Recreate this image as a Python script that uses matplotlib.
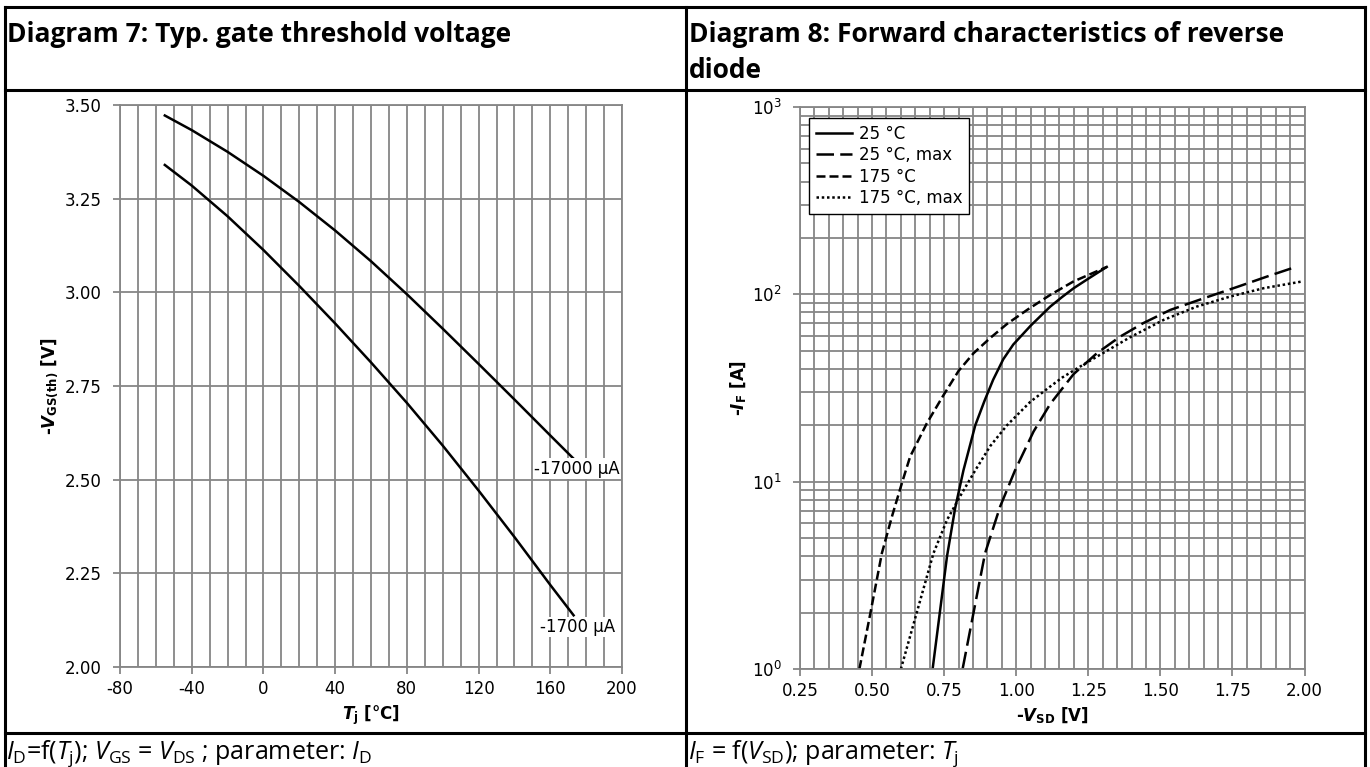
import matplotlib
matplotlib.use("Agg")
import matplotlib.pyplot as plt
from matplotlib.lines import Line2D
from matplotlib.ticker import MultipleLocator, FormatStrFormatter, LogLocator, NullFormatter

# Diagram 7 data: gate threshold voltage vs junction temperature
tj = [-55, -40, -20, 0, 20, 40, 60, 80, 100, 120, 140, 160, 173]
vth_17000 = [3.472, 3.433, 3.375, 3.311, 3.241, 3.165, 3.083, 2.995, 2.903, 2.809, 2.714, 2.618, 2.556]
vth_1700 = [3.340, 3.285, 3.203, 3.113, 3.017, 2.917, 2.813, 2.705, 2.591, 2.471, 2.347, 2.219, 2.138]
curve_labels = ["-17000 µA", "-1700 µA"]

# Diagram 8 data: reverse diode forward characteristics
v_25 = [0.710, 0.735, 0.760, 0.788, 0.817, 0.858, 0.890, 0.920, 0.955, 0.990, 1.050, 1.118, 1.160, 1.200, 1.260, 1.314]
i_25 = [1.0, 2.0, 4.0, 7.2, 11.5, 20, 27, 35, 45, 54, 68, 86, 97, 108, 124, 140]
v_25max = [0.814, 0.852, 0.892, 0.944, 0.996, 1.060, 1.118, 1.199, 1.280, 1.360, 1.440, 1.534, 1.657, 1.770, 1.877, 1.956]
i_25max = [1.0, 2.0, 4.15, 7.35, 11.5, 18.5, 26.0, 37.5, 48.5, 59.4, 70.1, 82.5, 96, 110, 125.5, 137.8]
v_175 = [0.456, 0.494, 0.534, 0.570, 0.605, 0.632, 0.690, 0.748, 0.800, 0.852, 0.910, 0.968, 1.040, 1.118, 1.198, 1.314]
i_175 = [1.0, 1.98, 4.15, 6.6, 10.0, 13.6, 20.5, 29, 39, 48.5, 58.5, 69.5, 83, 99.3, 117, 140]
v_175max = [0.600, 0.655, 0.713, 0.760, 0.810, 0.858, 0.910, 0.968, 1.049, 1.118, 1.160, 1.220, 1.280, 1.395, 1.511, 1.626, 1.742, 1.858, 1.990]
i_175max = [1.0, 2.0, 4.15, 6.25, 8.6, 11.5, 15.5, 20, 26.7, 32.2, 36, 41, 46.5, 59, 73, 86, 97.3, 107.8, 117]
legend_labels = ["25 °C", "25 °C, max", "175 °C", "175 °C, max"]

plt.rcParams["font.family"] = "DejaVu Sans"
plt.rcParams["axes.unicode_minus"] = False
plt.rcParams["mathtext.fontset"] = "custom"
plt.rcParams["mathtext.rm"] = "Open Sans"
plt.rcParams["mathtext.it"] = "Open Sans:italic"
plt.rcParams["mathtext.bf"] = "DejaVu Sans:bold"
plt.rcParams["mathtext.bfit"] = "DejaVu Sans:italic:bold"

W, H = 1370, 767
GRID = "#868686"


def fx(px):
    return px / W


def fy(py):
    return 1 - py / H


def style_axes(ax):
    ax.grid(which="both", color=GRID, lw=1.3)
    ax.tick_params(which="major", direction="out", length=5, width=1.3, color=GRID,
                   labelsize=12)
    ax.tick_params(axis="x", which="major", pad=4.5)
    ax.tick_params(axis="y", which="major", pad=8)
    ax.tick_params(which="minor", length=0)
    for s in ax.spines.values():
        s.set_color(GRID)
        s.set_linewidth(1.3)


fig = plt.figure(figsize=(13.7, 7.67), dpi=100)

# table frame
lines = [
    ([5, 1365], [7, 7]), ([5, 1365], [90, 90]), ([5, 1365], [733, 733]),
    ([5, 5], [7, 767]), ([686, 686], [7, 767]), ([1365, 1365], [7, 767]),
]
for xs, ys in lines:
    fig.add_artist(Line2D([fx(x) for x in xs], [fy(y) for y in ys],
                          transform=fig.transFigure, color="black", lw=2.2))

# headers
hdr = dict(family="Open Sans", fontweight="bold", fontsize=19, va="baseline", ha="left")
fig.text(fx(7), fy(42), "Diagram 7: Typ. gate threshold voltage", **hdr)
fig.text(fx(689), fy(42), "Diagram 8: Forward characteristics of reverse", **hdr)
fig.text(fx(689), fy(78), "diode", **hdr)

# captions
cap = dict(family="Open Sans", fontsize=18, va="baseline", ha="left")
fig.text(fx(6), fy(759), r"$I_\mathrm{D}$=f($T_\mathrm{j}$); $V_\mathrm{GS}$ = $V_\mathrm{DS}$ ; parameter: $I_\mathrm{D}$", **cap)
fig.text(fx(688), fy(759), r"$I_\mathrm{F}$ = f($V_\mathrm{SD}$); parameter: $T_\mathrm{j}$", **cap)

# ---- Diagram 7
ax1 = fig.add_axes([fx(120), fy(667), (622 - 120) / W, (667 - 105) / H])
ax1.plot(tj, vth_17000, color="black", lw=1.8)
ax1.plot(tj, vth_1700, color="black", lw=1.8)
ax1.set_xlim(-80, 200)
ax1.set_ylim(2.0, 3.5)
ax1.xaxis.set_major_locator(MultipleLocator(40))
ax1.xaxis.set_minor_locator(MultipleLocator(10))
ax1.yaxis.set_major_locator(MultipleLocator(0.25))
ax1.yaxis.set_major_formatter(FormatStrFormatter("%.2f"))
style_axes(ax1)
ax1.text(175, 2.529, curve_labels[0], ha="center", va="center", fontsize=12,
         bbox=dict(fc="white", ec="none", pad=1))
ax1.text(175, 2.107, curve_labels[1], ha="center", va="center", fontsize=12,
         bbox=dict(fc="white", ec="none", pad=1))
ax1.set_xlabel(r"$\mathbfit{T}_\mathbf{j}$ [°C]", fontsize=12, fontweight="bold")
ax1.set_ylabel(r"-$\mathbfit{V}_\mathbf{GS(th)}$ [V]", fontsize=12, fontweight="bold")
ax1.xaxis.set_label_coords(0.5, -0.064)
ax1.yaxis.set_label_coords(-0.118, 0.5)

# ---- Diagram 8
ax2 = fig.add_axes([fx(800), fy(669), (1304.5 - 800) / W, (669 - 107) / H])
ax2.plot(v_25, i_25, color="black", lw=1.8, label=legend_labels[0])
ax2.plot(v_25max, i_25max, color="black", lw=1.8, dashes=(7, 2.5), label=legend_labels[1])
ax2.plot(v_175, i_175, color="black", lw=1.8, dashes=(3.6, 1.6), label=legend_labels[2])
ax2.plot(v_175max, i_175max, color="black", lw=1.8, dashes=(1, 1.1), label=legend_labels[3])
ax2.set_yscale("log")
ax2.set_xlim(0.25, 2.0)
ax2.set_ylim(1, 1000)
ax2.xaxis.set_major_locator(MultipleLocator(0.25))
ax2.xaxis.set_minor_locator(MultipleLocator(0.05))
ax2.xaxis.set_major_formatter(FormatStrFormatter("%.2f"))
ax2.set_yticks([1, 10, 100, 1000],
               labels=[r"$\mathdefault{10^{%d}}$" % k for k in range(4)])
ax2.yaxis.set_minor_locator(LogLocator(base=10, subs=range(2, 10)))
ax2.yaxis.set_minor_formatter(NullFormatter())
style_axes(ax2)
leg = ax2.legend(loc="upper left", bbox_to_anchor=(0.018, 0.98), borderaxespad=0,
                 fontsize=12, handlelength=2.2, handletextpad=0.4, labelspacing=0.2,
                 borderpad=0.4, fancybox=False, framealpha=1, edgecolor="black")
leg.get_frame().set_linewidth(1.0)
ax2.set_xlabel(r"-$\mathbfit{V}_\mathbf{SD}$ [V]", fontsize=12, fontweight="bold")
ax2.set_ylabel(r"-$\mathbfit{I}_\mathbf{F}$ [A]", fontsize=12, fontweight="bold")
ax2.xaxis.set_label_coords(0.5, -0.066)
ax2.yaxis.set_label_coords(-0.102, 0.5)

fig.savefig("out.png", dpi=100)
